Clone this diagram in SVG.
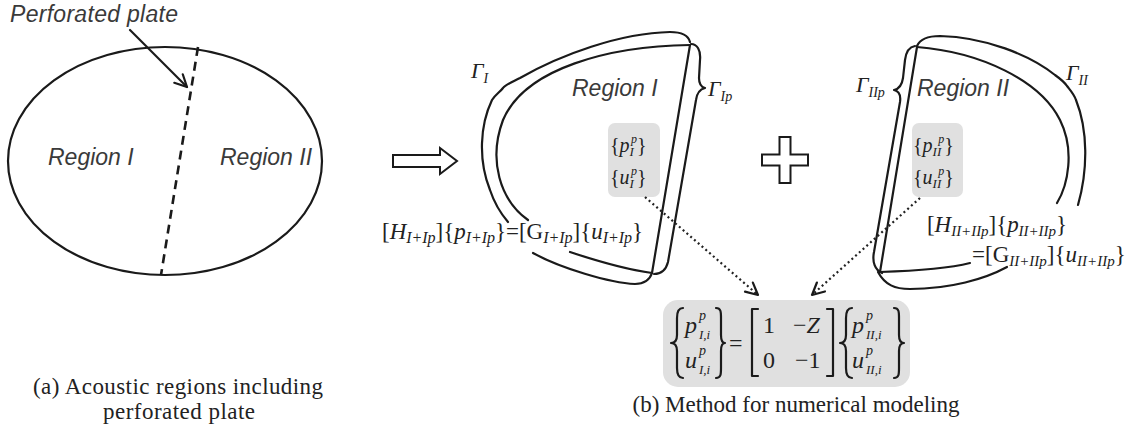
<svg xmlns="http://www.w3.org/2000/svg" width="1135" height="430" viewBox="0 0 1135 430">
<style>
.ln{fill:none;stroke:#1a1a1a;stroke-width:2.2;stroke-linecap:round;stroke-linejoin:round}
.sans{font-family:"Liberation Sans",Arial,sans-serif;font-style:italic;font-size:23px;fill:#3a3a3a}
.ser{font-family:"Liberation Serif","Times New Roman",serif;fill:#222}
.it{font-style:italic}
.gbox{fill:#e0e0e0;stroke:none}
.dot{fill:none;stroke:#222;stroke-width:2.2;stroke-dasharray:2 3}
</style>
<defs>
<marker id="openv" markerUnits="userSpaceOnUse" markerWidth="20" markerHeight="20" refX="14" refY="8" orient="auto" viewBox="0 0 20 16">
<path d="M2,2 L14,8 L2,14" fill="none" stroke="#1a1a1a" stroke-width="2.2" stroke-linecap="round" stroke-linejoin="round"/>
</marker>
</defs>

<!-- (a) -->
<g id="regions-a">
<ellipse cx="165" cy="161" rx="157" ry="114" class="ln"/>
<line x1="198" y1="47" x2="161" y2="275" stroke="#1a1a1a" stroke-width="2.6" stroke-dasharray="9 6"/>
<text class="sans" x="48" y="165">Region I</text>
<text class="sans" x="220" y="165">Region II</text>
</g>
<g id="plate-label">
<text class="sans" x="10" y="22" textLength="168">Perforated plate</text>
</g>

<g id="caption-a" class="ser" font-size="23">
<text x="33" y="394" textLength="290">(a) Acoustic regions including</text>
<text x="103" y="419" textLength="152">perforated plate</text>
</g>

<!-- hollow arrow -->
<g id="hollow-arrow">
<polygon points="393,155 440,155 440,148 457,161 440,174 440,167 393,167" fill="#fff" stroke="#1a1a1a" stroke-width="2"/>
</g>

<!-- Region I -->
<g id="region1">
<path class="ln" d="M690,45 L652,273"/>
<path class="ln" d="M690,45 C610,46 525,68 503,120 C488,160 500,200 528,220"/>
<path class="ln" d="M570,252 C600,262 630,270 652,273"/>
<path class="ln" d="M690,42 C688,34 680,32 670,32 C620,33 560,55 520,78 C510,83 505,85 503,88 C500,92 495,95 492,100 C480,125 478,160 490,190 C495,205 502,215 508,222"/>
<path class="ln" d="M533,253 C560,268 610,283 635,284 C645,284 650,279 652,273"/>
<path class="ln" d="M691,44 C697,44 701,50 700,60 L699,78 C699,84 701,87 705,88 C701,89 697,92 696,100 L668,262 C666,270 662,274 654,274"/>
<text class="sans" x="572" y="96">Region I</text>
<text class="ser it" x="471" y="78" font-size="22">Γ<tspan font-size="14" dy="5">I</tspan></text>
<text class="ser it" x="708" y="96" font-size="22">Γ<tspan font-size="14" dy="5">Ip</tspan></text>
<rect class="gbox" x="608" y="123" width="52" height="74" rx="7"/>
<text class="ser" x="610" y="152" font-size="20">{<tspan class="it">p</tspan><tspan class="it" font-size="13" dy="4">I</tspan><tspan class="it" font-size="12" dx="-3" dy="-13">p</tspan><tspan dy="9">}</tspan></text>
<text class="ser" x="610" y="184" font-size="20">{<tspan class="it">u</tspan><tspan class="it" font-size="13" dy="4">I</tspan><tspan class="it" font-size="12" dx="-3" dy="-13">p</tspan><tspan dy="9">}</tspan></text>
<text class="ser" x="382" y="239" font-size="23" textLength="261">[<tspan class="it">H</tspan><tspan class="it" font-size="16" dy="4">I+Ip</tspan><tspan dy="-4">]{</tspan><tspan class="it">p</tspan><tspan class="it" font-size="16" dy="4">I+Ip</tspan><tspan dy="-4">}=[G</tspan><tspan class="it" font-size="16" dy="4">I+Ip</tspan><tspan dy="-4">]{</tspan><tspan class="it">u</tspan><tspan class="it" font-size="16" dy="4">I+Ip</tspan><tspan dy="-4">}</tspan></text>
</g>

<!-- plus -->
<g id="plus">
<polygon points="779.5,137 790.5,137 790.5,154.5 808,154.5 808,165.5 790.5,165.5 790.5,183 779.5,183 779.5,165.5 762,165.5 762,154.5 779.5,154.5" fill="#fff" stroke="#1a1a1a" stroke-width="2"/>
</g>

<!-- Region II -->
<g id="region2">
<path class="ln" d="M917,47 L880,272"/>
<path class="ln" d="M917,47 C980,52 1040,80 1060,120 C1075,150 1068,185 1057,203"/>
<path class="ln" d="M880,272 C910,271 950,268 970,263"/>
<path class="ln" d="M917,46 C920,39 928,36 940,36 C985,37 1030,55 1055,75 C1062,80 1065,83 1067,86 C1070,90 1074,94 1076,100 C1088,130 1088,170 1078,205"/>
<path class="ln" d="M878,272 C885,285 895,289 910,289 C950,289 985,279 1007,267"/>
<path class="ln" d="M915,46 C909,47 906,52 905,60 L903,78 C902,85 899,89 894,90 C899,91 901,95 900,102 L874,252 C872,262 875,270 882,273"/>
<text class="sans" x="917" y="96">Region II</text>
<text class="ser it" x="856" y="92" font-size="22">Γ<tspan font-size="14" dy="5">IIp</tspan></text>
<text class="ser it" x="1066" y="80" font-size="22">Γ<tspan font-size="14" dy="5">II</tspan></text>
<rect class="gbox" x="912" y="123" width="51" height="74" rx="7"/>
<text class="ser" x="913" y="152" font-size="20">{<tspan class="it">p</tspan><tspan class="it" font-size="13" dy="4">II</tspan><tspan class="it" font-size="12" dx="-3" dy="-13">p</tspan><tspan dy="9">}</tspan></text>
<text class="ser" x="913" y="184" font-size="20">{<tspan class="it">u</tspan><tspan class="it" font-size="13" dy="4">II</tspan><tspan class="it" font-size="12" dx="-3" dy="-13">p</tspan><tspan dy="9">}</tspan></text>
<text class="ser" x="927" y="232" font-size="23" textLength="140">[<tspan class="it">H</tspan><tspan class="it" font-size="15" dy="4">II+IIp</tspan><tspan dy="-4">]{</tspan><tspan class="it">p</tspan><tspan class="it" font-size="15" dy="4">II+IIp</tspan><tspan dy="-4">}</tspan></text>
<text class="ser" x="972" y="262" font-size="23">=[G<tspan class="it" font-size="15" dy="4">II+IIp</tspan><tspan dy="-4">]{</tspan><tspan class="it">u</tspan><tspan class="it" font-size="15" dy="4">II+IIp</tspan><tspan dy="-4">}</tspan></text>
</g>

<!-- connectors -->
<g id="connectors">
<line class="dot" x1="645" y1="197" x2="758" y2="295" marker-end="url(#openv)"/>
<line class="dot" x1="920" y1="198" x2="812" y2="295" marker-end="url(#openv)"/>
<path class="ln" d="M130,30 L187,87" marker-end="url(#openv)"/>
</g>

<!-- matrix -->
<g id="matrix">
<rect class="gbox" x="663" y="300" width="247" height="87" rx="15"/>
<path class="ln" stroke-width="1.8" d="M683,308 C678,308 677,312 677,318 L677,335 C677,340 675,343 671,343 C675,343 677,346 677,351 L677,368 C677,374 678,378 683,378"/>
<path class="ln" stroke-width="1.8" d="M716,308 C721,308 721,312 721,318 L721,335 C721,340 722,343 725,343 C722,343 721,346 721,351 L721,368 C721,374 721,378 716,378"/>
<path class="ln" stroke-width="1.8" d="M758,309 L752,309 L752,376 L758,376"/>
<path class="ln" stroke-width="1.8" d="M827,309 L833,309 L833,376 L827,376"/>
<path class="ln" stroke-width="1.8" d="M852,308 C847,308 846,312 846,318 L846,335 C846,340 844,343 840,343 C844,343 846,346 846,351 L846,368 C846,374 847,378 852,378"/>
<path class="ln" stroke-width="1.8" d="M894,308 C899,308 899,312 899,318 L899,335 C899,340 900,343 904,343 C900,343 899,346 899,351 L899,368 C899,374 899,378 894,378"/>
<text class="ser it" x="685" y="333" font-size="24">p</text>
<text class="ser it" x="699" y="320" font-size="14">p</text>
<text class="ser it" x="699" y="339" font-size="13">I,i</text>
<text class="ser it" x="685" y="368" font-size="24">u</text>
<text class="ser it" x="699" y="355" font-size="14">p</text>
<text class="ser it" x="699" y="374" font-size="13">I,i</text>
<text class="ser" x="729" y="351" font-size="24">=</text>
<text class="ser" x="763" y="333" font-size="24">1</text>
<text class="ser" x="763" y="368" font-size="24">0</text>
<text class="ser" x="793" y="333" font-size="24">−<tspan class="it">Z</tspan></text>
<text class="ser" x="795" y="368" font-size="24">−1</text>
<text class="ser it" x="852" y="333" font-size="24">p</text>
<text class="ser it" x="866" y="320" font-size="14">p</text>
<text class="ser it" x="866" y="339" font-size="13">II,i</text>
<text class="ser it" x="852" y="368" font-size="24">u</text>
<text class="ser it" x="866" y="355" font-size="14">p</text>
<text class="ser it" x="866" y="374" font-size="13">II,i</text>
</g>

<g id="caption-b" class="ser" font-size="23">
<text x="796" y="412" text-anchor="middle">(b) Method for numerical modeling</text>
</g>
</svg>
